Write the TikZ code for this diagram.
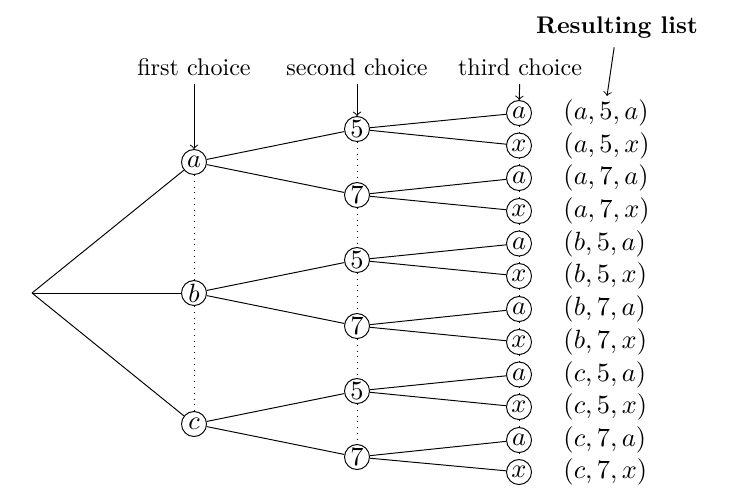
\documentclass[tikz,border=0pt]{standalone}
\begin{document}
\begin{tikzpicture}[x=0.415pt,y=-0.415pt,
  cnode/.style={draw,circle,inner sep=0pt,minimum size=25*0.415pt,font=\fontsize{11.2}{13}\selectfont},
  lab/.style={anchor=west,inner sep=0pt,font=\fontsize{11.2}{13}\selectfont},
  guide/.style={->},
  dots/.style={dotted}]
\useasboundingbox (0,0) rectangle (744,493);
\coordinate (r) at (32,293);
% level 1
\node[cnode] (a) at (194,162) {$a$};
\node[cnode] (b) at (194,293) {$b$};
\node[cnode] (c) at (194,424) {$c$};
% level 2
\foreach \n/\t/\y in {s1/5/129,s2/7/195,s3/5/260,s4/7/326,s5/5/391,s6/7/457}
  \node[cnode] (\n) at (357,\y) {$\t$};
% level 3
\foreach \i/\t/\y in {1/a/113,2/x/145.5,3/a/178,4/x/211,5/a/243.5,6/x/276,7/a/309,8/x/342,9/a/374.5,10/x/407,11/a/440,12/x/472}
  \node[cnode] (t\i) at (519,\y) {$\t$};
% labels
\foreach \i/\l/\y in {1/{(a,5,a)}/113,2/{(a,5,x)}/145.5,3/{(a,7,a)}/178,4/{(a,7,x)}/211,5/{(b,5,a)}/243.5,6/{(b,5,x)}/276,7/{(b,7,a)}/309,8/{(b,7,x)}/342,9/{(c,5,a)}/374.5,10/{(c,5,x)}/407,11/{(c,7,a)}/440,12/{(c,7,x)}/472}
  \node[lab] (l\i) at (563,\y) {$\l$};
% edges
\draw (r) -- (a); \draw (r) -- (b); \draw (r) -- (c);
\draw (a) -- (s1); \draw (a) -- (s2);
\draw (b) -- (s3); \draw (b) -- (s4);
\draw (c) -- (s5); \draw (c) -- (s6);
\draw (s1) -- (t1); \draw (s1) -- (t2);
\draw (s2) -- (t3); \draw (s2) -- (t4);
\draw (s3) -- (t5); \draw (s3) -- (t6);
\draw (s4) -- (t7); \draw (s4) -- (t8);
\draw (s5) -- (t9); \draw (s5) -- (t10);
\draw (s6) -- (t11); \draw (s6) -- (t12);
% dotted guides
\draw[dots] (a) -- (b); \draw[dots] (b) -- (c);
\draw[dots] (s1) -- (s2); \draw[dots] (s2) -- (s3); \draw[dots] (s3) -- (s4); \draw[dots] (s4) -- (s5); \draw[dots] (s5) -- (s6);
\foreach \i [evaluate=\i as \j using int(\i+1)] in {1,...,11}
  \draw[dots] (t\i) -- (t\j);
% headers
\node (h1) at (194,67) {first choice};
\node (h2) at (357,67) {second choice};
\node (h3) at (520,67) {third choice};
\node (h4) at (617,28) {\textbf{Resulting list}};
\coordinate (h4e) at (607,96);
\draw[guide] (h1) -- (a);
\draw[guide] (h2) -- (s1);
\draw[guide] (h3) -- (t1);
\draw[guide] (h4) -- (h4e);
\end{tikzpicture}
\end{document}
